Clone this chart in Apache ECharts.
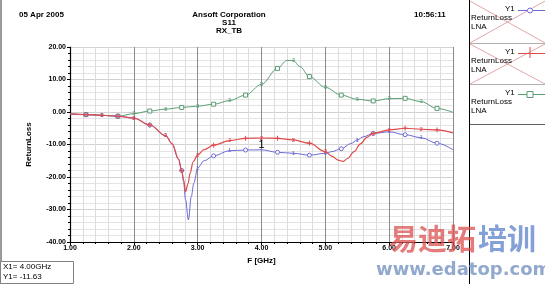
<!DOCTYPE html>
<html><head><meta charset="utf-8">
<script src="https://cdn.jsdelivr.net/npm/echarts@6/dist/echarts.min.js"></script>
<style>html,body{margin:0;padding:0;background:#fff}#c{width:545px;height:284px}</style>
</head><body><div id="c"></div>
<script>
// ---- data ----
const xTicks = ['1.00','2.00','3.00','4.00','5.00','6.00','7.00'];
const yTicks = ['-40.00','-30.00','-20.00','-10.00','0.00','10.00','20.00'];

const freqBlue = [1.0,1.25,1.5,1.75,2.0,2.25,2.5,2.6,2.7,2.75,2.78,2.81,2.855,2.9,2.94,3.0,3.1,3.25,3.5,3.75,4.0,4.25,4.5,4.75,5.0,5.1,5.25,5.4,5.5,5.6,5.75,6.0,6.25,6.5,6.75,7.0];
const blueVals = [-0.6,-0.8,-1.0,-1.3,-1.9,-4.0,-7.3,-9.8,-14.5,-18.0,-21.5,-27.0,-33.2,-26.0,-21.9,-17.2,-15.0,-13.5,-11.9,-11.7,-11.63,-12.4,-12.7,-13.3,-12.7,-12.2,-11.3,-9.7,-8.6,-7.6,-6.6,-6.1,-7.0,-7.9,-9.6,-11.6];

const freqRed = [1.0,1.25,1.5,1.75,2.0,2.25,2.5,2.6,2.7,2.75,2.78,2.81,2.85,2.88,2.93,3.0,3.1,3.25,3.5,3.75,4.0,4.25,4.5,4.75,5.0,5.1,5.2,5.28,5.35,5.45,5.55,5.65,5.75,6.0,6.25,6.5,6.75,7.0];
const redVals = [-0.6,-0.8,-1.0,-1.3,-1.9,-4.0,-7.3,-9.8,-14.5,-18.0,-20.9,-24.5,-22.0,-18.9,-15.3,-13.2,-11.6,-10.2,-8.8,-8.1,-8.0,-8.1,-8.6,-9.6,-12.2,-13.6,-14.8,-15.2,-14.3,-12.2,-9.8,-7.8,-6.6,-5.5,-5.0,-5.3,-5.5,-6.4];

const freqGreen = [1.0,1.25,1.5,1.75,2.0,2.25,2.5,2.75,3.0,3.25,3.5,3.75,4.0,4.25,4.4,4.5,4.6,4.75,5.0,5.25,5.5,5.75,6.0,6.25,6.5,6.75,7.0];
const greenVals = [-0.6,-0.8,-1.0,-1.3,-0.5,0.3,0.9,1.4,1.8,2.4,3.5,5.2,8.5,13.4,15.9,15.8,14.0,10.9,7.6,5.2,3.9,3.4,4.1,4.2,3.2,1.1,-0.1];

const markerX = 4.00, markerY = -11.63;

const plusPath = 'path://M0,5L10,5M5,0L5,10';
function build(freq, vals, sym, digit, color, bigAt) {
  return freq.map((f, i) => {
    const k = Math.round(f * 4);
    const isQ = Math.abs(f * 4 - k) < 1e-6 && f > 1 && f < 7;
    const item = { value: [f, vals[i]], symbol: 'none', symbolSize: 0 };
    if (isQ) {
      if (k % 2 === 1) {
        item.symbol = sym; item.symbolSize = sym === plusPath ? 5 : 4;
      } else {
        item.label = { show: true, formatter: digit, position: 'inside', color: color, fontSize: 6, fontFamily: 'Liberation Sans' };
        item.symbol = 'circle'; item.symbolSize = 1;
      }
    }
    if (bigAt !== undefined && Math.abs(f - bigAt) < 1e-6) {
      item.label = { show: true, formatter: '1', position: 'top', distance: 0, offset: [0, 2], color: '#000', fontSize: 11, fontFamily: 'Liberation Sans' };
    }
    return item;
  });
}

const chart = echarts.init(document.getElementById('c'), null, { renderer: 'canvas' });
const F = 'Liberation Sans';
const pink = '#e3a7a7';
const legendColors = ['#6b6bd6', '#e04a4a', '#5b9e74'];
const graphics = [];
graphics.push({ type: 'line', shape: { x1: 1, y1: 0, x2: 1, y2: 284 }, style: { stroke: '#9a9a9a', lineWidth: 2 } });
graphics.push({ type: 'line', shape: { x1: 469.5, y1: 0, x2: 469.5, y2: 284 }, style: { stroke: '#000', lineWidth: 1 } });
const boxes = [[0, 43], [43, 84], [84, 124]];
boxes.forEach((b, i) => {
  const [t, bt] = b;
  if (i < 2) {
    graphics.push({ type: 'line', shape: { x1: 470, y1: t + 1, x2: 545, y2: bt }, style: { stroke: pink, lineWidth: 1 } });
    graphics.push({ type: 'line', shape: { x1: 470, y1: bt, x2: 545, y2: t + 1 }, style: { stroke: pink, lineWidth: 1 } });
  }
  graphics.push({ type: 'line', shape: { x1: 470, y1: bt + 0.5, x2: 545, y2: bt + 0.5 }, style: { stroke: i < 2 ? '#b0b0b0' : '#606060', lineWidth: 1 } });
  graphics.push({ type: 'text', left: 505, top: t + 5, style: { text: 'Y1', font: '8px ' + F, fill: '#000' } });
  graphics.push({ type: 'line', shape: { x1: 518, y1: t + 10.5, x2: 545, y2: t + 10.5 }, style: { stroke: legendColors[i], lineWidth: 1 } });
  graphics.push({ type: 'text', left: 471, top: t + 14, style: { text: 'ReturnLoss', font: '8px ' + F, fill: '#000' } });
  graphics.push({ type: 'text', left: 471, top: t + 23, style: { text: 'LNA', font: '8px ' + F, fill: '#000' } });
});
graphics.push({ type: 'circle', shape: { cx: 530, cy: 10.5, r: 2.5 }, style: { stroke: legendColors[0], fill: '#fff' } });
graphics.push({ type: 'line', shape: { x1: 530, y1: 47, x2: 530, y2: 58 }, style: { stroke: legendColors[1] } });
graphics.push({ type: 'rect', shape: { x: 527, y: 91.5, width: 6, height: 6 }, style: { stroke: legendColors[2], fill: '#fff' } });
graphics.push({ type: 'rect', shape: { x: 0.5, y: 261.5, width: 73, height: 22 }, style: { stroke: '#808080', fill: '#fff' } });
graphics.push({ type: 'text', left: 3, top: 263, style: { text: 'X1= ' + markerX.toFixed(2) + 'GHz', font: '8px ' + F, fill: '#000' } });
graphics.push({ type: 'text', left: 3, top: 273, style: { text: 'Y1= ' + markerY.toFixed(2), font: '8px ' + F, fill: '#000' } });
graphics.push({ type: 'text', left: 389, top: 224, z: 100, style: { text: '易迪拓', font: 'bold 29px "Noto Sans CJK SC"', fill: 'rgba(220,80,80,0.75)' } });
graphics.push({ type: 'text', left: 478, top: 224, z: 100, style: { text: '培训', font: 'bold 29px "Noto Sans CJK SC"', fill: 'rgba(90,130,200,0.75)' } });
graphics.push({ type: 'text', left: 376, top: 261, z: 100, style: { text: 'www.edatop.com', font: 'bold 18px "DejaVu Sans"', fill: 'rgba(110,140,190,0.75)' } });

chart.setOption({
  animation: false,
  backgroundColor: '#fff',
  title: [
    { text: '05 Apr 2005', left: 14, top: 6, textStyle: { fontSize: 8, fontWeight: 'bold', fontFamily: F, color: '#000' } },
    { text: 'Ansoft Corporation', left: 224, top: 6, textAlign: 'center', textStyle: { fontSize: 8, fontWeight: 'bold', fontFamily: F, color: '#000' } },
    { text: 'S11', left: 224, top: 14, textAlign: 'center', textStyle: { fontSize: 8, fontWeight: 'bold', fontFamily: F, color: '#000' } },
    { text: 'RX_TB', left: 224, top: 22, textAlign: 'center', textStyle: { fontSize: 8, fontWeight: 'bold', fontFamily: F, color: '#000' } },
    { text: '10:56:11', left: 409, top: 6, textStyle: { fontSize: 8, fontWeight: 'bold', fontFamily: F, color: '#000' } }
  ],
  grid: { left: 70, right: 92, top: 47, bottom: 42, show: false },
  xAxis: {
    type: 'value', min: 1, max: 7, interval: 1,
    name: 'F [GHz]', nameLocation: 'middle', nameGap: 14,
    nameTextStyle: { fontSize: 8, fontWeight: 'bold', fontFamily: F, color: '#000' },
    axisLine: { show: true, onZero: false, lineStyle: { color: '#000', width: 1.2 } },
    axisTick: { show: true, length: 3, lineStyle: { color: '#000' } },
    minorTick: { show: true, splitNumber: 5, length: 2, lineStyle: { color: '#000' } },
    axisLabel: { fontSize: 7, fontWeight: 'bold', fontFamily: F, color: '#000', margin: 3, formatter: (v) => xTicks[Math.round(v - 1)] },
    splitLine: { show: true, lineStyle: { color: '#8c8c8c', width: 1 } },
    minorSplitLine: { show: true, lineStyle: { color: '#dcdcdc', width: 1 } }
  },
  yAxis: {
    type: 'value', min: -40, max: 20, interval: 10,
    name: 'ReturnLoss', nameLocation: 'middle', nameGap: 37, nameRotate: 90,
    nameTextStyle: { fontSize: 8, fontWeight: 'bold', fontFamily: F, color: '#000' },
    axisLine: { show: true, onZero: false, lineStyle: { color: '#000', width: 1.2 } },
    axisTick: { show: true, length: 3, lineStyle: { color: '#000' } },
    minorTick: { show: true, splitNumber: 5, length: 2, lineStyle: { color: '#000' } },
    axisLabel: { fontSize: 7, fontWeight: 'bold', fontFamily: F, color: '#000', margin: 4, formatter: (v) => yTicks[Math.round((v + 40) / 10)] },
    splitLine: { show: true, lineStyle: { color: '#d2d2d2', width: 1 } },
    minorSplitLine: { show: true, lineStyle: { color: '#e4e4e4', width: 1 } }
  },
  graphic: graphics,
  series: [
    { type: 'line', name: 'LNA 3', data: build(freqGreen, greenVals, 'rect', '3', '#5b9e74'), smooth: 0.35, smoothMonotone: 'x',
      lineStyle: { color: '#5b9e74', width: 1 }, itemStyle: { color: '#fff', borderColor: '#5b9e74', borderWidth: 1 }, z: 3 },
    { type: 'line', name: 'LNA 1', data: build(freqBlue, blueVals, 'circle', '1', '#6b6bd6', markerX), smooth: 0.35, smoothMonotone: 'x',
      lineStyle: { color: '#6b6bd6', width: 1 }, itemStyle: { color: '#fff', borderColor: '#6b6bd6', borderWidth: 1 }, z: 4 },
    { type: 'line', name: 'LNA 2', data: build(freqRed, redVals, plusPath, '2', '#e04a4a'), smooth: 0.35, smoothMonotone: 'x',
      lineStyle: { color: '#e04a4a', width: 1.2 }, itemStyle: { color: '#e04a4a', borderColor: '#e04a4a', borderWidth: 1 }, z: 5 }
  ]
});
</script></body></html>
